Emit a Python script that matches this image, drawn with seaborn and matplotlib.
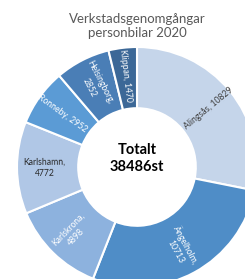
import matplotlib
matplotlib.use("Agg")
import matplotlib.pyplot as plt
import numpy as np
import seaborn as sns

towns = ["Alingsås", "Ängelholm", "Karlskrona", "Karlshamn", "Ronneby", "Helsingborg", "Klippan"]
counts = [10829, 10713, 4898, 4772, 2952, 2852, 1470]
colors = ["#c5d5ea", "#4f8dc7", "#8db2de", "#b0c7e6", "#5b9bd5", "#4a7eb6", "#3c6897"]
label_colors = ["#404040", "white", "white", "#262626", "white", "white", "white"]
label_lines = [False, True, True, True, False, True, False]

sns.set_style("white")
plt.rcParams["font.family"] = ["Lato", "DejaVu Sans"]

fig = plt.figure(figsize=(2.45, 2.79), dpi=100)
ax = fig.add_axes([0, 0, 1, 1])

total = sum(counts)
wedges, _ = ax.pie(
    counts,
    colors=colors,
    startangle=90,
    counterclock=False,
    radius=1.0,
    wedgeprops=dict(width=0.51, edgecolor="white", linewidth=1.5),
)

# labels sit mid-ring, turned along the radius (flipped on the left half)
for w, town, n, col, two_lines in zip(wedges, towns, counts, label_colors, label_lines):
    ang = (w.theta1 + w.theta2) / 2
    rad = np.deg2rad(ang)
    r = 0.77
    x, y = r * np.cos(rad), r * np.sin(rad)
    rot = ang
    if np.cos(rad) < -0.01:
        rot = ang - 180
    rot = (rot + 180) % 360 - 180
    sep = ",\n" if two_lines else ", "
    ax.text(x, y, f"{town}{sep}{n}", ha="center", va="center", rotation=rot,
            rotation_mode="anchor", color=col, fontsize=6.2, linespacing=1.4)

ax.text(0, 0.07, f"Totalt\n{total}st", ha="center", va="center", fontsize=10.5,
        fontweight="bold", color="black", linespacing=1.2)

ax.text(0, 1.175, "Verkstadsgenomgångar\npersonbilar 2020", ha="center", va="center",
        fontsize=9.5, color="#595959", linespacing=1.25)

ax.set_xlim(-137 / 120, 108 / 120)
ax.set_ylim(-112 / 120, 167 / 120)
ax.set_aspect("auto")
ax.axis("off")

fig.savefig("out.png", dpi=100)
